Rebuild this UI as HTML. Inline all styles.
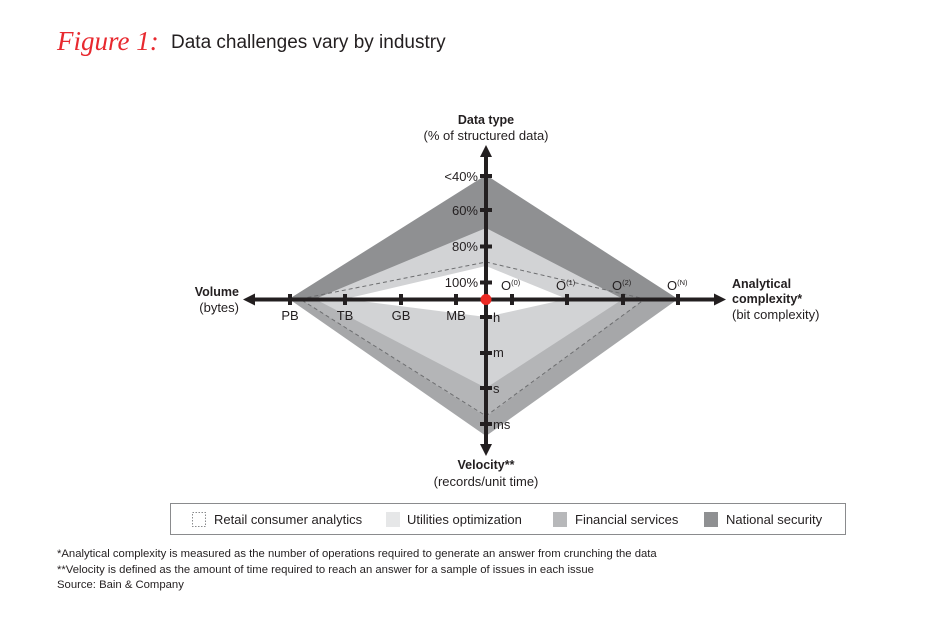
<!DOCTYPE html>
<html>
<head>
<meta charset="utf-8">
<style>
  html, body { margin:0; padding:0; background:#fff; }
  body { width:950px; height:618px; overflow:hidden; }
  svg { display:block; }
  text { font-family:"Liberation Sans", sans-serif; fill:#231f20; }
</style>
</head>
<body>
<svg width="950" height="618" viewBox="0 0 950 618" xmlns="http://www.w3.org/2000/svg">
  <rect x="0" y="0" width="950" height="618" fill="#fff"/>

  <!-- Title -->
  <text x="57" y="50" style="font-family:'Liberation Serif',serif;font-style:italic;font-size:27px;fill:#e8292f;">Figure 1:</text>
  <text x="171" y="48" style="font-size:19px;">Data challenges vary by industry</text>

  <!-- Regions -->
  <!-- upper dark (national) -->
  <polygon points="486,175 678,299 289,299" fill="#8f9092"/>
  <!-- lower outer -->
  <polygon points="289,299 678,299 486,436" fill="#a6a7a9"/>
  <!-- lower medium -->
  <polygon points="300,299 645,299 486,417" fill="#b4b5b7"/>
  <!-- light (utilities-ish) -->
  <polygon points="486,228 623,299 486,388 315,299" fill="#d2d3d5"/>
  <!-- white center -->
  <polygon points="486,266 567,299 486,317 345,299" fill="#ffffff"/>
  <!-- dashed outline (retail) -->
  <polygon points="486,262 645,299 486,416 300,299" fill="none" stroke="#6d6e70" stroke-width="1" stroke-dasharray="4,3"/>

  <!-- Axes -->
  <line x1="250" y1="299.5" x2="718" y2="299.5" stroke="#231f20" stroke-width="4"/>
  <polygon points="243,299.5 255,293.5 255,305.5" fill="#231f20"/>
  <polygon points="726,299.5 714,293.5 714,305.5" fill="#231f20"/>
  <line x1="486" y1="154" x2="486" y2="448" stroke="#231f20" stroke-width="4"/>
  <polygon points="486,145 480,157 492,157" fill="#231f20"/>
  <polygon points="486,456 480,444 492,444" fill="#231f20"/>

  <!-- horizontal ticks -->
  <g fill="#231f20">
    <rect x="288" y="294" width="4" height="11"/>
    <rect x="343" y="294" width="4" height="11"/>
    <rect x="399" y="294" width="4" height="11"/>
    <rect x="454" y="294" width="4" height="11"/>
    <rect x="510" y="294" width="4" height="11"/>
    <rect x="565" y="294" width="4" height="11"/>
    <rect x="621" y="294" width="4" height="11"/>
    <rect x="676" y="294" width="4" height="11"/>
    <!-- vertical ticks -->
    <rect x="480" y="174" width="12" height="4"/>
    <rect x="480" y="208" width="12" height="4"/>
    <rect x="480" y="244.5" width="12" height="4"/>
    <rect x="480" y="280.5" width="12" height="4"/>
    <rect x="480" y="315" width="12" height="4"/>
    <rect x="480" y="351" width="12" height="4"/>
    <rect x="480" y="386" width="12" height="4"/>
    <rect x="480" y="422" width="12" height="4"/>
  </g>

  <!-- center dot -->
  <circle cx="486" cy="299.5" r="5.5" fill="#ec2a24"/>

  <!-- vertical up labels -->
  <g style="font-size:13px;" text-anchor="end">
    <text x="478" y="181">&lt;40%</text>
    <text x="478" y="215">60%</text>
    <text x="478" y="251">80%</text>
    <text x="478" y="287">100%</text>
  </g>

  <!-- volume labels -->
  <g style="font-size:13px;" text-anchor="middle">
    <text x="290" y="320">PB</text>
    <text x="345" y="320">TB</text>
    <text x="401" y="320">GB</text>
    <text x="456" y="320">MB</text>
  </g>

  <!-- complexity labels -->
  <g style="font-size:13px;">
    <text x="501" y="290">O<tspan dy="-5" style="font-size:7.5px;">(0)</tspan></text>
    <text x="556" y="290">O<tspan dy="-5" style="font-size:7.5px;">(1)</tspan></text>
    <text x="612" y="290">O<tspan dy="-5" style="font-size:7.5px;">(2)</tspan></text>
    <text x="667" y="290">O<tspan dy="-5" style="font-size:7.5px;">(N)</tspan></text>
  </g>

  <!-- velocity labels -->
  <g style="font-size:13px;">
    <text x="493" y="322">h</text>
    <text x="493" y="357">m</text>
    <text x="493" y="393">s</text>
    <text x="493" y="429">ms</text>
  </g>

  <!-- axis titles -->
  <text x="486" y="124" text-anchor="middle" style="font-size:12.5px;font-weight:bold;">Data type</text>
  <text x="486" y="140" text-anchor="middle" style="font-size:13px;">(% of structured data)</text>

  <text x="239" y="296" text-anchor="end" style="font-size:12.5px;font-weight:bold;">Volume</text>
  <text x="239" y="312" text-anchor="end" style="font-size:13px;">(bytes)</text>

  <text x="732" y="288" style="font-size:12.5px;font-weight:bold;">Analytical</text>
  <text x="732" y="303" style="font-size:12.5px;font-weight:bold;">complexity*</text>
  <text x="732" y="319" style="font-size:13px;">(bit complexity)</text>

  <text x="486" y="469" text-anchor="middle" style="font-size:12.5px;font-weight:bold;">Velocity**</text>
  <text x="486" y="486" text-anchor="middle" style="font-size:13px;">(records/unit time)</text>

  <!-- Legend -->
  <rect x="170.5" y="503.5" width="675" height="31" fill="#fff" stroke="#8a8b8d" stroke-width="1"/>
  <rect x="192.5" y="512.5" width="13" height="14" fill="#fff" stroke="#8a8b8d" stroke-width="1" stroke-dasharray="1.5,1.5"/>
  <text x="214" y="524" style="font-size:13px;">Retail consumer analytics</text>
  <rect x="386" y="512" width="14" height="15" fill="#e6e7e8"/>
  <text x="407" y="524" style="font-size:13px;">Utilities optimization</text>
  <rect x="553" y="512" width="14" height="15" fill="#b7b8ba"/>
  <text x="575" y="524" style="font-size:13px;">Financial services</text>
  <rect x="704" y="512" width="14" height="15" fill="#8f9092"/>
  <text x="726" y="524" style="font-size:13px;">National security</text>

  <!-- Footnotes -->
  <g style="font-size:11.3px;">
    <text x="57" y="557">*Analytical complexity is measured as the number of operations required to generate an answer from crunching the data</text>
    <text x="57" y="573">**Velocity is defined as the amount of time required to reach an answer for a sample of issues in each issue</text>
    <text x="57" y="588">Source: Bain &amp; Company</text>
  </g>
</svg>
</body>
</html>
